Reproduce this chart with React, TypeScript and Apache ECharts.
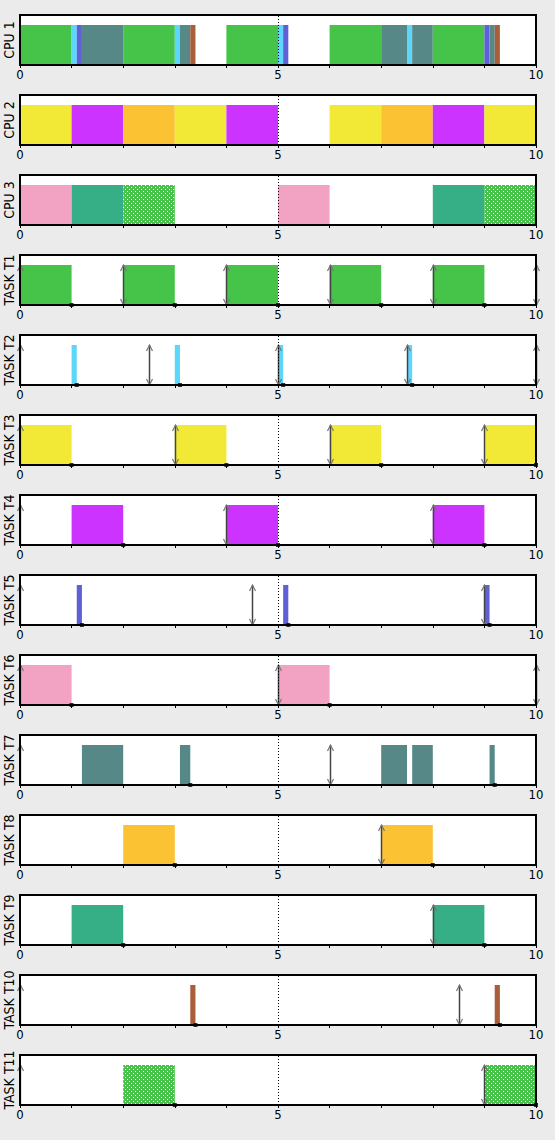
import React, { useEffect, useRef } from 'react';
import * as echarts from 'echarts';

// ---------- data ----------
const tasks = ['T1', 'T2', 'T3', 'T4', 'T5', 'T6', 'T7', 'T8', 'T9', 'T10', 'T11'];
const cpuNames = ['CPU 1', 'CPU 2', 'CPU 3'];
const xLabeled = [0, 5, 10];

// [start, end, task]
const cpu1: [number, number, string][] = [
  [0, 1, 'T1'], [1, 1.1, 'T2'], [1.1, 1.2, 'T5'], [1.2, 2, 'T7'], [2, 3, 'T1'],
  [3, 3.1, 'T2'], [3.1, 3.3, 'T7'], [3.3, 3.4, 'T10'], [4, 5, 'T1'], [5, 5.1, 'T2'],
  [5.1, 5.2, 'T5'], [6, 7, 'T1'], [7, 7.5, 'T7'], [7.5, 7.6, 'T2'], [7.6, 8, 'T7'],
  [8, 9, 'T1'], [9, 9.1, 'T5'], [9.1, 9.2, 'T7'], [9.2, 9.3, 'T10'],
];
const cpu2: [number, number, string][] = [
  [0, 1, 'T3'], [1, 2, 'T4'], [2, 3, 'T8'], [3, 4, 'T3'], [4, 5, 'T4'],
  [6, 7, 'T3'], [7, 8, 'T8'], [8, 9, 'T4'], [9, 10, 'T3'],
];
const cpu3: [number, number, string][] = [
  [0, 1, 'T6'], [1, 2, 'T9'], [2, 3, 'T11'], [5, 6, 'T6'], [8, 9, 'T9'], [9, 10, 'T11'],
];

// release / deadline arrows
const releaseT1 = [0, 2, 4, 6, 8, 10];
const releaseT2 = [0, 2.5, 5, 7.5, 10];
const releaseT3 = [0, 3, 6, 9];
const releaseT4 = [0, 4, 8];
const releaseT5 = [0, 4.5, 9];
const releaseT6 = [0, 5, 10];
const releaseT7 = [0, 6];
const releaseT8 = [7];
const releaseT9 = [8];
const releaseT10 = [0, 8.5];
const releaseT11 = [0, 9];

// completion marks
const doneT1 = [1, 3, 5, 7, 9];
const doneT2 = [1.1, 3.1, 5.1, 7.6];
const doneT3 = [1, 4, 7, 10];
const doneT4 = [2, 5, 9];
const doneT5 = [1.2, 5.2, 9.1];
const doneT6 = [1, 6];
const doneT7 = [3.3, 9.2];
const doneT8 = [3, 8];
const doneT9 = [2, 9];
const doneT10 = [3.4, 9.3];
const doneT11 = [3, 10];

const releases = [releaseT1, releaseT2, releaseT3, releaseT4, releaseT5, releaseT6, releaseT7, releaseT8, releaseT9, releaseT10, releaseT11];
const dones = [doneT1, doneT2, doneT3, doneT4, doneT5, doneT6, doneT7, doneT8, doneT9, doneT10, doneT11];

// ---------- styles ----------
const FONT = '"Liberation Sans Narrow", "DejaVu Sans Condensed", "Liberation Sans", sans-serif';
const solidColors: Record<string, string> = {
  T1: '#46c44a', T2: '#5cd6fa', T3: '#f2e936', T4: '#cc33ff', T5: '#5f5fd6',
  T6: '#f2a3c3', T7: '#578888', T8: '#fbc233', T9: '#36ae86', T10: '#a85e3b',
};

function makeDotPattern(): any {
  const c = document.createElement('canvas');
  c.width = 4; c.height = 4;
  const ctx = c.getContext('2d')!;
  ctx.fillStyle = '#46c44a';
  ctx.fillRect(0, 0, 4, 4);
  ctx.fillStyle = '#ffffff';
  ctx.fillRect(1, 1, 1, 1);
  ctx.fillRect(3, 3, 1, 1);
  return { image: c, repeat: 'repeat', imageWidth: 4, imageHeight: 4 };
}

export default function App() {
  const ref = useRef<HTMLDivElement>(null);
  useEffect(() => {
    document.body.style.margin = '0';
    const chart = echarts.init(ref.current!, null, { renderer: 'svg' });
    const pattern = makeDotPattern();
    const fillFor = (t: string) => (t === 'T11' ? pattern : solidColors[t]);

    const allSegs = [...cpu1, ...cpu2, ...cpu3];
    const panels: { name: string; segs: [number, number, string][]; rel: number[]; done: number[] }[] = [
      { name: cpuNames[0], segs: cpu1, rel: [], done: [] },
      { name: cpuNames[1], segs: cpu2, rel: [], done: [] },
      { name: cpuNames[2], segs: cpu3, rel: [], done: [] },
      ...tasks.map((t, i) => ({
        name: 'TASK ' + t,
        segs: allSegs.filter((s) => s[2] === t).sort((a, b) => a[0] - b[0]),
        rel: releases[i],
        done: dones[i],
      })),
    ];

    const grids: any[] = [];
    const xAxes: any[] = [];
    const yAxes: any[] = [];
    const series: any[] = [];

    panels.forEach((p, i) => {
      grids.push({
        left: 20, right: 19, top: 15 + 80 * i, height: 50,
        outerBoundsMode: 'none', containLabel: false,
        show: true, backgroundColor: '#ffffff', borderWidth: 0,
      });
      xAxes.push({
        gridIndex: i, type: 'value', min: 0, max: 10, interval: 1,
        axisLine: { show: true, lineStyle: { color: '#000', width: 2 } },
        axisTick: { show: true, length: 3, lineStyle: { color: '#000', width: 1 } },
        splitLine: { show: false },
        axisLabel: {
          show: true, margin: 3, color: '#000', fontSize: 13, fontFamily: FONT,
          showMinLabel: true, showMaxLabel: true,
          formatter: (v: number) => (xLabeled.includes(v) ? String(v) : ''),
        },
      });
      yAxes.push({
        gridIndex: i, type: 'value', min: 0, max: 1.25,
        axisLine: { show: false }, axisTick: { show: false }, axisLabel: { show: false },
        splitLine: { show: false },
        name: p.name, nameLocation: 'middle', nameGap: 4, nameRotate: 90,
        nameTextStyle: { color: '#000', fontSize: 14, fontFamily: FONT },
      });

      const segs = p.segs;
      series.push({
        type: 'custom', xAxisIndex: i, yAxisIndex: i, z: 2,
        data: segs.map((s) => [s[0], s[1]]),
        renderItem: (params: any, api: any) => {
          const seg = segs[params.dataIndex];
          const a = api.coord([seg[0], 1]);
          const b = api.coord([seg[1], 0]);
          return {
            type: 'rect',
            shape: { x: a[0], y: a[1], width: b[0] - a[0], height: b[1] - a[1] },
            style: { fill: fillFor(seg[2]) },
          };
        },
        markLine: {
          silent: true, symbol: ['none', 'none'], z: 10,
          label: { show: false },
          lineStyle: { color: '#000', width: 1, type: [1, 2] },
          data: [{ xAxis: 5 }],
        },
      });

      const rel = p.rel;
      if (rel.length) {
        series.push({
          type: 'custom', xAxisIndex: i, yAxisIndex: i, z: 5,
          data: rel.map((r) => [r]),
          renderItem: (params: any, api: any) => {
            const r = rel[params.dataIndex];
            const top = api.coord([r, 1]);
            const bot = api.coord([r, 0]);
            const x = Math.round(top[0]) + 0.5;
            const single = params.dataIndex === 0 && r === 0;
            const col = single ? '#8a8a8a' : '#444';
            const children: any[] = [
              { type: 'line', shape: { x1: x, y1: top[1], x2: x, y2: bot[1] }, style: { stroke: col, lineWidth: 1.5 } },
              { type: 'polyline', shape: { points: [[x - 3, top[1] + 6], [x, top[1]], [x + 3, top[1] + 6]] }, style: { stroke: '#777', lineWidth: 1.2, fill: null } },
            ];
            if (!single) {
              children.push({ type: 'polyline', shape: { points: [[x - 3, bot[1] - 6], [x, bot[1]], [x + 3, bot[1] - 6]] }, style: { stroke: '#777', lineWidth: 1.2, fill: null } });
            }
            return { type: 'group', children };
          },
        });
      }

      if (p.done.length) {
        series.push({
          type: 'scatter', xAxisIndex: i, yAxisIndex: i, z: 6, clip: false,
          symbol: 'rect', symbolSize: 4, itemStyle: { color: '#000' },
          data: p.done.map((d) => [d, 0]),
          silent: true,
        });
      }

      // frame
      series.push({
        type: 'custom', xAxisIndex: i, yAxisIndex: i, z: 8,
        data: [[0]],
        renderItem: (params: any, api: any) => {
          const a = api.coord([0, 1.25]);
          const b = api.coord([10, 0]);
          return {
            type: 'rect',
            shape: { x: a[0], y: a[1], width: b[0] - a[0], height: b[1] - a[1] },
            style: { fill: null, stroke: '#000', lineWidth: 2 },
          };
        },
        silent: true,
      });
    });

    chart.setOption({
      animation: false,
      backgroundColor: '#ebebeb',
      grid: grids,
      xAxis: xAxes,
      yAxis: yAxes,
      series,
    });
    return () => chart.dispose();
  }, []);
  return <div ref={ref} style={{ width: 555, height: 1140 }} />;
}
